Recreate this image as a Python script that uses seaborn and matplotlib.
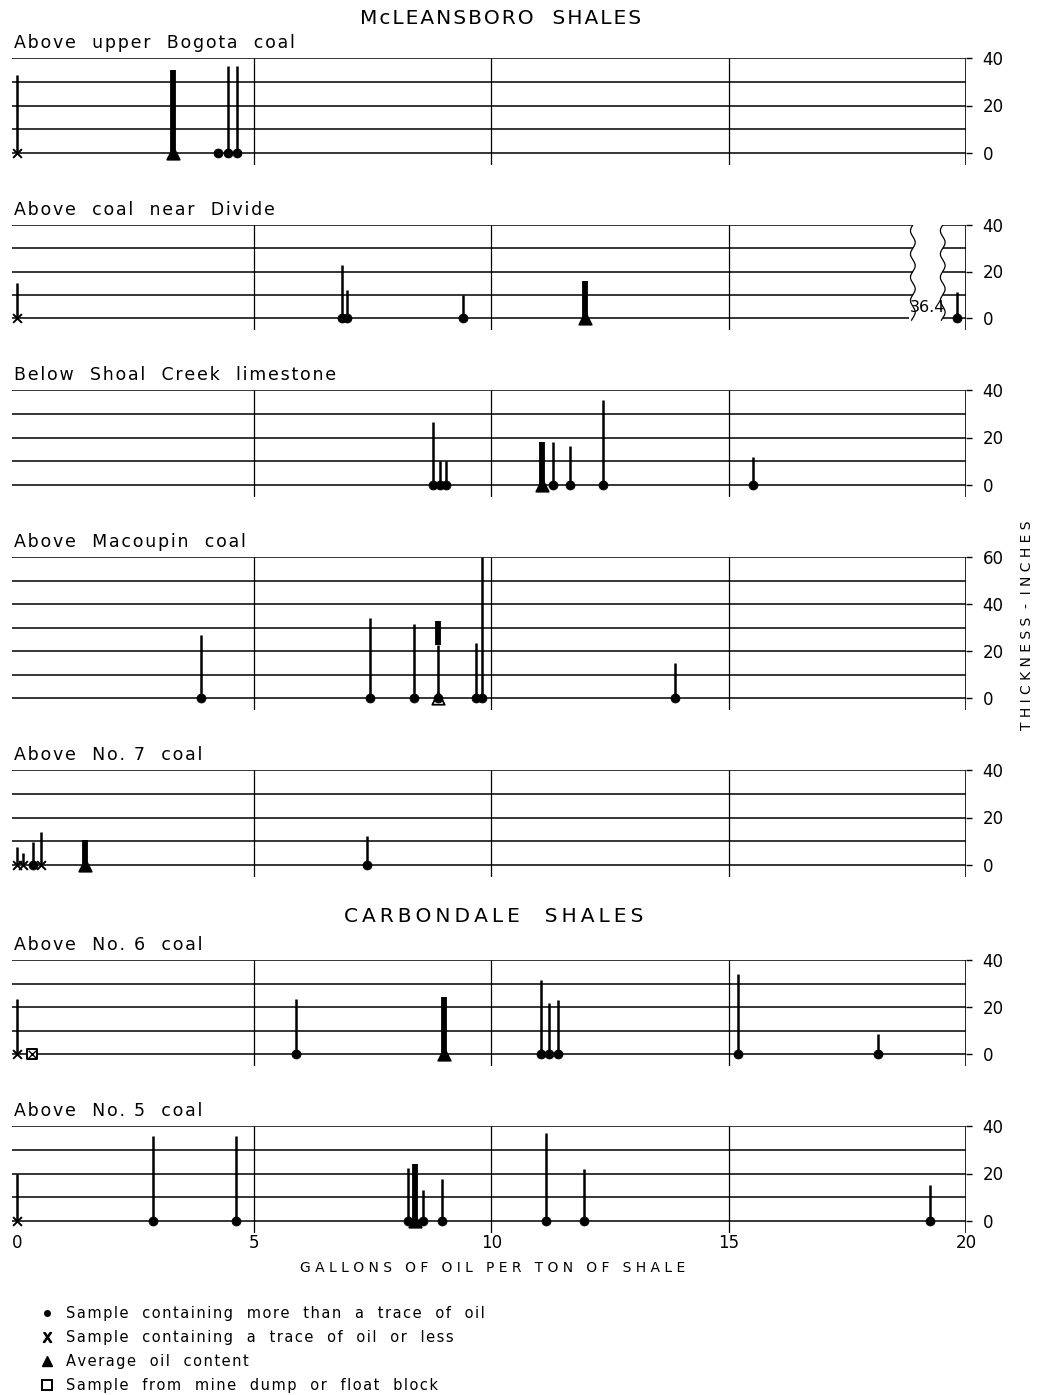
import numpy as np
import pandas as pd
import matplotlib
matplotlib.use("Agg")
import matplotlib.pyplot as plt
from matplotlib.lines import Line2D
import seaborn as sns

sns.set_style("white")
plt.rcParams['font.family'] = ['DejaVu Sans']
plt.rcParams['text.color'] = 'black'
plt.rcParams['xtick.color'] = 'black'
plt.rcParams['ytick.color'] = 'black'

# ---- data: gallons of oil per ton, thickness in inches, sample kind
bogota_gal = [0, 3.29, 4.24, 4.45, 4.64]
bogota_in = [33, 35, 0, 36.5, 36.5]
bogota_kind = ['x', 'avg', 'dot', 'dot', 'dot']

divide_gal = [0, 6.86, 6.96, 9.41, 11.98, 36.4]
divide_in = [15, 23, 12, 10, 16, 11]
divide_kind = ['x', 'dot', 'dot', 'dot', 'avg', 'dot']

shoal_gal = [8.78, 8.92, 9.05, 11.07, 11.3, 11.65, 12.36, 15.51]
shoal_in = [26.7, 10, 10, 18, 18, 16.5, 36, 11.7]
shoal_kind = ['dot', 'dot', 'dot', 'avg', 'dot', 'dot', 'dot', 'dot']

macoupin_gal = [3.88, 7.44, 8.37, 8.87, 8.87, 9.68, 9.81, 13.86]
macoupin_in = [26.8, 33.9, 31.3, 22.5, 32.8, 23.3, 60, 15]
macoupin_kind = ['dot', 'dot', 'dot', 'dot', 'avg', 'dot', 'dot', 'dot']

no7_gal = [0, 0.13, 0.34, 0.52, 1.43, 7.38]
no7_in = [7.7, 5, 9.7, 14, 10.6, 12.2]
no7_kind = ['x', 'x', 'dot', 'x', 'avg', 'dot']

no6_gal = [0, 0.32, 5.89, 9.0, 11.05, 11.22, 11.41, 15.2, 18.14]
no6_in = [23.4, 0, 23.4, 24.4, 31.5, 21.6, 23, 34, 8.5]
no6_kind = ['x', 'dump', 'dot', 'avg', 'dot', 'dot', 'dot', 'dot', 'dot']

no5_gal = [0, 2.88, 4.61, 8.24, 8.39, 8.55, 8.96, 11.15, 11.96, 19.25]
no5_in = [19.6, 36, 36, 22.4, 24, 13, 17.8, 37, 22, 15.3]
no5_kind = ['x', 'dot', 'dot', 'dot', 'avg', 'dot', 'dot', 'dot', 'dot', 'dot']

panel_names = ["Above  upper  Bogota  coal", "Above  coal  near  Divide",
               "Below  Shoal  Creek  limestone", "Above  Macoupin  coal",
               "Above  No. 7  coal", "Above  No. 6  coal", "Above  No. 5  coal"]
panel_data = [(bogota_gal, bogota_in, bogota_kind), (divide_gal, divide_in, divide_kind),
              (shoal_gal, shoal_in, shoal_kind), (macoupin_gal, macoupin_in, macoupin_kind),
              (no7_gal, no7_in, no7_kind), (no6_gal, no6_in, no6_kind), (no5_gal, no5_in, no5_kind)]
panel_ymax = [40, 40, 40, 60, 40, 40, 40]

legend_labels = ["Sample  containing  more  than  a  trace  of  oil",
                 "Sample  containing  a  trace  of  oil  or  less",
                 "Average  oil  content",
                 "Sample  from  mine  dump  or  float  block"]

# ---- layout (pixels in the 1042 x 1395 figure)
W, H = 1042, 1395
panel_top = [58, 225, 390, 557, 770, 960, 1126]
panel_zero = [153, 318, 485, 698, 865, 1054, 1221]
x_left, x_right = 12, 966
below = 5          # inches drawn below the zero line
break_lo, break_hi, break_pos = 18.88, 19.51, 19.81


def spaced(s, sep='\u200a'):
    # lettering-guide look: a hair space between letters
    return sep.join(s)


fig = plt.figure(figsize=(W / 100, H / 100), dpi=100)


def wavy(ax, x0, ymax):
    yy = np.linspace(-1, ymax, 200)
    ax.plot(x0 + 0.05 * np.sin(yy / 10 * 2 * np.pi), yy, color='black', lw=0.9)


for i in range(7):
    gal, inch, kind = panel_data[i]
    ymax = panel_ymax[i]
    ppi = (panel_zero[i] - panel_top[i]) / ymax
    bottom_px = panel_zero[i] + below * ppi
    ax = fig.add_axes([x_left / W, 1 - bottom_px / H, (x_right - x_left) / W,
                       (bottom_px - panel_top[i]) / H])
    ax.set_xlim(-0.1, 20)
    ax.set_ylim(-below, ymax)
    for s in ax.spines.values():
        s.set_visible(False)

    df = pd.DataFrame({'gal': gal, 'inches': inch, 'kind': kind})
    broken = df['gal'] > 20
    df['pos'] = np.where(broken, break_pos, df['gal'])
    df['zero'] = 0.0

    # grid frame
    levels = list(range(0, ymax + 1, 10))
    if broken.any():
        ax.hlines(levels[1:], -0.1, break_lo, color='black', lw=1.1)
        ax.hlines(0, -0.1, break_lo - 0.08, color='black', lw=1.1)
        ax.hlines(levels, break_hi, 20, color='black', lw=1.1)
        wavy(ax, break_lo, ymax)
        wavy(ax, break_hi, ymax)
        for g in df.loc[broken, 'gal']:
            ax.text((break_lo + break_hi) / 2, 1.5, f"{g}", ha='center', va='bottom',
                    fontsize=11.5)
    else:
        ax.hlines(levels, -0.1, 20, color='black', lw=1.1)
    ax.vlines([5, 10, 15], -below, ymax, color='black', lw=0.9)
    ax.vlines(20, -below, ymax, color='black', lw=1.2)

    # stems
    thin = df[df['kind'] != 'avg']
    ax.vlines(thin['pos'], 0, thin['inches'], color='black', lw=1.8, zorder=3)
    avg = df[df['kind'] == 'avg']
    for _, r in avg.iterrows():
        same = thin[np.isclose(thin['gal'], r['gal'])]
        base = same['inches'].max() if len(same) else 0
        ax.vlines(r['pos'], base, r['inches'], color='black', lw=4.2, zorder=3)
        face = 'white' if len(same) else 'black'
        sns.scatterplot(x=[r['pos']], y=[0.0], marker='^', s=80, color=face,
                        edgecolor='black', linewidth=1.3, ax=ax, zorder=4, clip_on=False)

    # markers
    sub = df[df['kind'] == 'dot']
    sns.scatterplot(data=sub, x='pos', y='zero', marker='o', s=42, color='black',
                    edgecolor='black', ax=ax, zorder=5, clip_on=False)
    sub = df[df['kind'] == 'x']
    sns.scatterplot(data=sub, x='pos', y='zero', marker='x', s=40, color='black',
                    linewidth=1.4, ax=ax, zorder=5, clip_on=False)
    sub = df[df['kind'] == 'dump']
    sns.scatterplot(data=sub, x='pos', y='zero', marker='s', s=55, color='white',
                    edgecolor='black', linewidth=1.4, ax=ax, zorder=5, clip_on=False)
    sns.scatterplot(data=sub, x='pos', y='zero', marker='x', s=30, color='black',
                    linewidth=1.0, ax=ax, zorder=6, clip_on=False)

    ax.set_xlabel('')
    ax.set_ylabel('')
    ax.yaxis.tick_right()
    ax.set_yticks(range(0, ymax + 1, 20))
    ax.tick_params(axis='y', right=True, length=4, width=1, pad=8, labelsize=12,
                   direction='out')
    if i == 6:
        ax.set_xticks([0, 5, 10, 15, 20])
        ax.tick_params(axis='x', bottom=False, length=0, pad=1, labelsize=12)
    else:
        ax.set_xticks([])
    ax.set_title(spaced(panel_names[i]), loc='left', fontsize=12.5, pad=7, x=0.002)

fig.text(501 / W, 1 - 18 / H, spaced("McLEANSBORO  SHALES"), ha='center',
         va='center', fontsize=14.5)
fig.text(494 / W, 1 - 917 / H, spaced("CARBONDALE  SHALES", '\u2009'), ha='center',
         va='center', fontsize=14.5)
fig.text(493 / W, 1 - 1268 / H, "G A L L O N S   O F   O I L   P E R   T O N   O F   S H A L E",
         ha='center', va='center', fontsize=10)
fig.text(1027 / W, 1 - 625 / H, "T H I C K N E S S  -  I N C H E S", ha='center', va='center',
         rotation=90, fontsize=10)

handles = [Line2D([], [], ls='', marker='o', color='black', ms=4),
           Line2D([], [], ls='', marker='$\\mathrm{X}$', color='black', ms=7),
           Line2D([], [], ls='', marker='^', color='black', ms=7),
           Line2D([], [], ls='', marker='s', mfc='white', mec='black', mew=1.4, ms=7)]
fig.legend(handles, [spaced(t) for t in legend_labels], loc='upper left',
           bbox_to_anchor=(40 / W, 1 - 1306 / H), frameon=False, fontsize=10.5,
           handlelength=1.0, handletextpad=0.75, labelspacing=0.62, borderpad=0,
           borderaxespad=0)

fig.savefig("out.png", dpi=100)
